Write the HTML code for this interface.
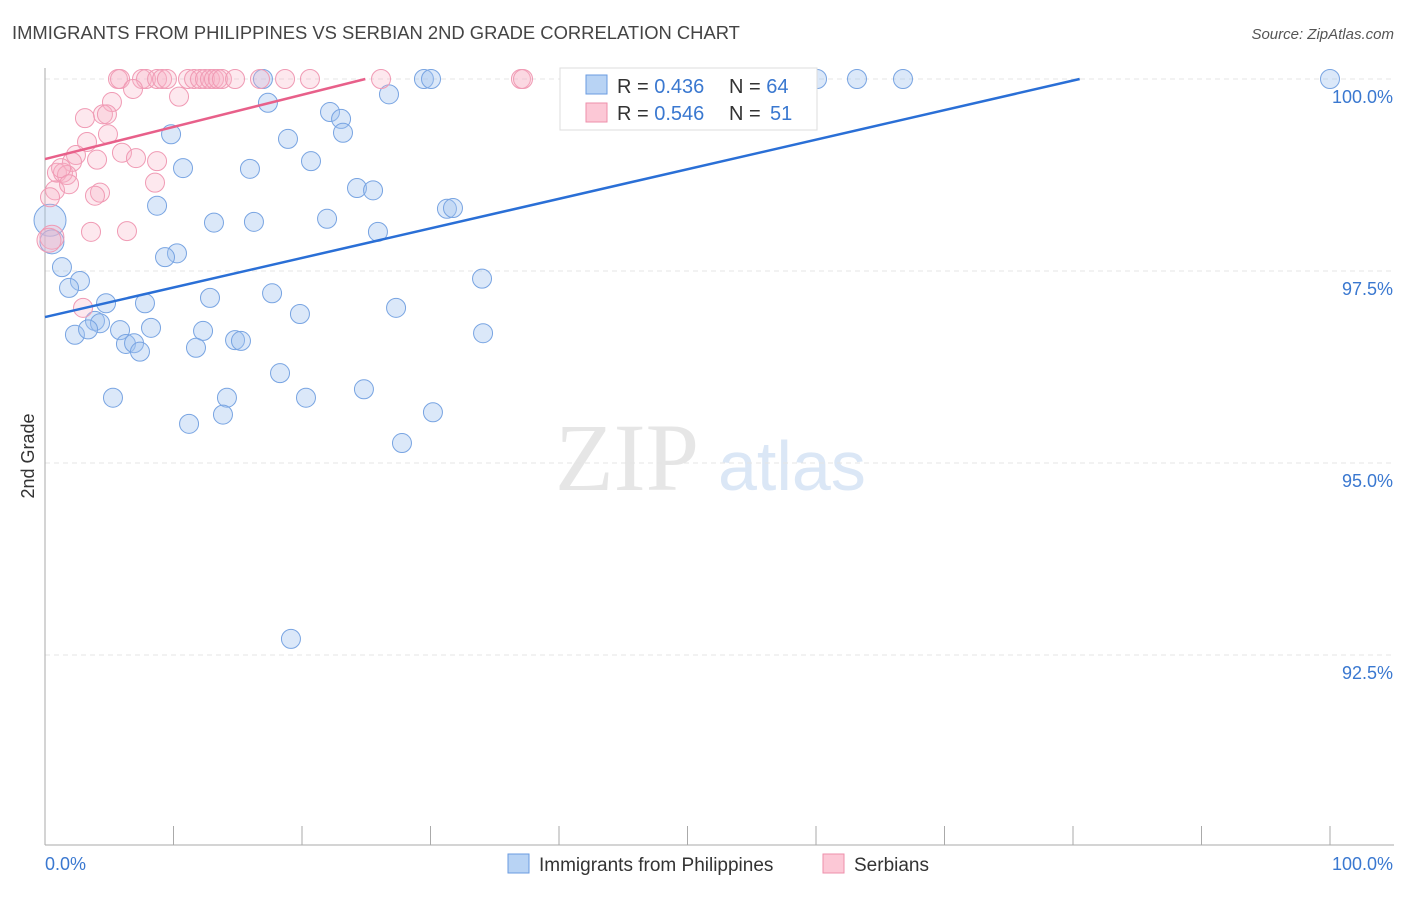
<!DOCTYPE html>
<html><head><meta charset="utf-8"><style>
body{margin:0;background:#fff;font-family:"Liberation Sans",sans-serif;}
</style></head><body>
<svg id="c" width="1406" height="892" xmlns="http://www.w3.org/2000/svg" font-family="Liberation Sans, sans-serif">
<text x="12" y="39" font-size="18.4" fill="#444">IMMIGRANTS FROM PHILIPPINES VS SERBIAN 2ND GRADE CORRELATION CHART</text>
<text x="1394" y="39" font-size="15" fill="#555" font-style="italic" text-anchor="end">Source: ZipAtlas.com</text>
<text x="555" y="490" font-size="96" fill="#e6e6e6" font-family="Liberation Serif, serif">ZIP</text>
<text x="718" y="490" font-size="70" fill="#dbe7f6">atlas</text>
<text transform="translate(34,456) rotate(-90)" font-size="18" fill="#333" text-anchor="middle">2nd Grade</text>
<g id="grid"></g><g id="axes"></g><g id="pts"></g><g id="lines"></g>
<g>
<rect x="560" y="68" width="257" height="62" fill="#fff" stroke="#ddd"/>
<rect x="586" y="75" width="21" height="19" fill="#b8d3f4" stroke="#6a9be0"/>
<rect x="586" y="103" width="21" height="19" fill="#fcc8d6" stroke="#ee8fab"/>
<text x="617" y="93" font-size="20" fill="#333">R = <tspan fill="#3a78d0">0.436</tspan><tspan x="729">N = </tspan><tspan fill="#3a78d0">64</tspan></text>
<text x="617" y="120" font-size="20" fill="#333">R = <tspan fill="#3a78d0">0.546</tspan><tspan x="729">N = </tspan><tspan fill="#3a78d0" x="770">51</tspan></text>
</g>
<g>
<rect x="508" y="854" width="21" height="19" fill="#b8d3f4" stroke="#6a9be0"/>
<text x="539" y="871" font-size="19" fill="#333">Immigrants from Philippines</text>
<rect x="823" y="854" width="21" height="19" fill="#fcc8d6" stroke="#ee8fab"/>
<text x="854" y="871" font-size="19" fill="#333">Serbians</text>
</g>
</svg>
<script>
const blueX=[16.96,29.49,30.04,60.08,63.19,66.77,100,26.77,17.35,22.18,23.04,23.19,9.81,18.91,20.70,10.74,15.95,24.28,25.53,8.72,31.28,31.75,13.15,16.26,21.95,25.91,0.39,0.54,10.27,9.34,1.32,2.72,1.87,17.67,12.84,4.75,7.78,27.32,19.84,34.01,3.89,4.28,8.25,5.84,12.30,2.33,3.35,34.09,14.79,15.25,6.30,6.93,7.39,11.75,18.29,5.29,14.16,20.31,24.82,30.19,13.85,11.21,27.78,19.14];
const blueY=[100,100,100,100,100,100,100,99.80,99.69,99.57,99.48,99.30,99.28,99.22,98.93,98.84,98.83,98.58,98.55,98.35,98.31,98.32,98.13,98.14,98.18,98.01,98.16,97.88,97.73,97.68,97.55,97.37,97.28,97.21,97.15,97.08,97.08,97.02,96.94,97.40,96.85,96.82,96.76,96.73,96.72,96.67,96.74,96.69,96.60,96.59,96.55,96.56,96.45,96.50,96.17,95.85,95.85,95.85,95.96,95.66,95.63,95.51,95.26,92.71];
const pinkX=[5.68,5.84,7.55,7.86,8.72,9.11,9.49,11.13,11.60,12.06,12.45,12.84,13.15,13.46,13.77,14.79,16.73,18.68,20.62,26.15,37.04,37.20,6.85,5.21,10.43,4.51,4.82,3.11,4.90,3.27,5.99,7.08,8.72,2.41,2.10,4.05,0.93,1.40,1.71,1.25,0.78,1.87,4.28,3.89,8.56,0.39,3.58,6.38,0.54,2.96,0.31];
const pinkY=[100,100,100,100,100,100,100,100,100,100,100,100,100,100,100,100,100,100,100,100,100,100,99.87,99.70,99.77,99.54,99.54,99.49,99.28,99.18,99.04,98.97,98.93,99.01,98.92,98.95,98.78,98.78,98.75,98.84,98.55,98.63,98.52,98.48,98.65,98.46,98.01,98.02,97.94,97.02,97.90];
const yTicks=[100,97.5,95,92.5];
const yTickLabels=["100.0%","97.5%","95.0%","92.5%"];
const blueTrend=[96.90,0.0385];
const pinkTrend=[98.958,0.0418];
const NS="http://www.w3.org/2000/svg";
const X0=45,X1=1330,Ytop=79,PPU=76.8;
function sx(v){return X0+(X1-X0)*v/100;}
function sy(v){return Ytop+(100-v)*PPU;}
function mk(t,a,p){const e=document.createElementNS(NS,t);for(const k in a)e.setAttribute(k,a[k]);p.appendChild(e);return e;}
const grid=document.getElementById('grid'),axes=document.getElementById('axes'),pts=document.getElementById('pts'),lines=document.getElementById('lines');
yTicks.forEach((t,i)=>{
 const g=mk('line',{x1:45,x2:1394,y1:sy(t),y2:sy(t),stroke:'#e4e4e4','stroke-dasharray':'5,4'},grid);
 
 
 const l=mk('text',{x:1393,y:sy(t)+24,'font-size':18,fill:'#3a78d0','text-anchor':'end'},grid);
 l.textContent=yTickLabels[i];
 
 
});
const ya=mk('line',{x1:45,x2:45,y1:68,y2:845,stroke:'#aaa'},axes);


const xa=mk('line',{x1:45,x2:1394,y1:845,y2:845,stroke:'#aaa'},axes);


for(let k=1;k<=10;k++){const t=mk('line',{x1:sx(k*10),x2:sx(k*10),y1:826,y2:845,stroke:'#aaa'},axes);
 
 }
[[45,'start','0.0%'],[1393,'end','100.0%']].forEach(a=>{const t=mk('text',{x:a[0],y:870,'font-size':18,fill:'#3a78d0','text-anchor':a[1]},axes);t.textContent=a[2];
 
 });
function dots(xs,ys,fill,stroke,name){xs.forEach((x,i)=>{
 let r=9.5; if(x<0.6&&ys[i]>98.1&&ys[i]<98.2)r=16; if(x<0.6&&ys[i]<97.95&&ys[i]>97.85)r=12;
 const c=mk('circle',{cx:sx(x),cy:sy(ys[i]),r:r,fill:fill,stroke:stroke,'stroke-width':1},pts);
 
 });}
dots(blueX,blueY,'rgba(160,195,240,0.38)','#78a4e2','philippines-point');
dots(pinkX,pinkY,'rgba(250,180,200,0.3)','#f09ab4','serbian-point');
function trend(p,color,name){const xe=Math.min(100,(100-p[0])/p[1]);
 const l=mk('line',{x1:sx(0),y1:sy(p[0]),x2:sx(xe),y2:sy(p[0]+p[1]*xe),stroke:color,'stroke-width':2.5},lines);
 
 }
trend(blueTrend,'#2a6fd6','philippines-trendline');
trend(pinkTrend,'#e8608a','serbian-trendline');
</script>
</body></html>
